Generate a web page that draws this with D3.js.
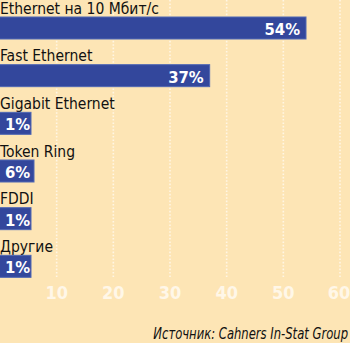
<!DOCTYPE html>
<html>
<head>
<meta charset="utf-8">
<script src="https://cdn.jsdelivr.net/npm/d3@7/dist/d3.min.js"></script>
<style>
  html, body { margin: 0; padding: 0; background: #fde5b5; }
  svg { display: block; }
  text { font-family: 'DejaVu Sans', sans-serif; font-stretch: condensed; }
</style>
</head>
<body>
<svg id="chart" width="350" height="343"></svg>
<script>
// Network technologies share, %
const categories = ["Ethernet на 10 Мбит/с", "Fast Ethernet", "Gigabit Ethernet", "Token Ring", "FDDI", "Другие"];
const shares = [54, 37, 1, 6, 1, 1];
const ticks = [10, 20, 30, 40, 50, 60];
const sourceNote = "Источник: Cahners In-Stat Group";

const W = 350, H = 343;
const svg = d3.select("#chart");

svg.append("rect").attr("width", W).attr("height", H).attr("fill", "#fde5b5");

const x = d3.scaleLinear().domain([0, 60]).range([0, 340]);
const y = d3.scaleBand().domain(categories).range([0, 286]).paddingInner(0).paddingOuter(0);
const barH = 22;
const barOffset = 17; // bar sits below its label inside each band

// vertical dotted gridlines
svg.append("g")
  .selectAll("line")
  .data(ticks)
  .join("line")
  .attr("x1", d => x(d)).attr("x2", d => x(d))
  .attr("y1", 0).attr("y2", y(categories[categories.length - 1]) + barOffset + barH)
  .attr("stroke", "#fff6e4")
  .attr("stroke-width", 1.6)
  .attr("stroke-dasharray", "1.6,1.8");

// tick labels (the last one is kept inside the right edge)
svg.append("g")
  .selectAll("text")
  .data(ticks)
  .join("text")
  .attr("x", d => Math.min(x(d), W - 11))
  .attr("y", 299)
  .attr("text-anchor", "middle")
  .attr("font-weight", "bold")
  .attr("font-size", 18)
  .attr("fill", "#fff7e8")
  .text(d => d);

const minW = 31;
const rows = svg.append("g")
  .selectAll("g")
  .data(categories.map((c, i) => ({ c, v: shares[i] })))
  .join("g")
  .attr("transform", d => `translate(0,${y(d.c)})`);

rows.append("text")
  .attr("x", 0)
  .attr("y", 13.5)
  .attr("font-size", 15.5)
  .attr("fill", "#111")
  .text(d => d.c);

rows.append("rect")
  .attr("x", -1)
  .attr("y", barOffset)
  .attr("width", d => Math.max(x(d.v), minW) + 1)
  .attr("height", barH)
  .attr("fill", "#33479c")
  .attr("stroke", "#5068b4")
  .attr("stroke-width", 1);

rows.append("text")
  .attr("x", d => x(d.v) > 60 ? x(d.v) - 6 : 5)
  .attr("y", barOffset + 18)
  .attr("text-anchor", d => x(d.v) > 60 ? "end" : "start")
  .attr("font-weight", "bold")
  .attr("font-size", 16.5)
  .attr("fill", "#ffffff")
  .text(d => d.v + "%");

svg.append("text")
  .attr("transform", "translate(348,339) scale(0.86,1)")
  .attr("text-anchor", "end")
  .attr("font-style", "italic")
  .attr("font-size", 15)
  .attr("fill", "#111")
  .text(sourceNote);
</script>
</body>
</html>
